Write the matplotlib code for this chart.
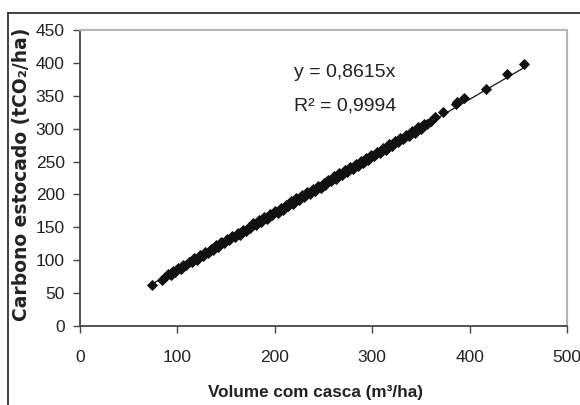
import matplotlib
matplotlib.use('Agg')
import matplotlib.pyplot as plt
from matplotlib.lines import Line2D

#%% Data: stocked carbon vs. volume with bark

volume = [73.6, 84, 87, 90, 93, 95, 98, 101, 104, 106, 109, 112, 115, 117, 120,
          123, 126, 128, 131, 134, 137, 140, 142, 145, 148, 151, 153, 156, 159,
          162, 164, 167, 170, 173, 175, 178, 181, 184, 186, 189, 192, 195, 197,
          200, 203, 206, 208, 211, 214, 217, 219, 222, 225, 228, 230, 233, 236,
          239, 241, 244, 247, 250, 252, 255, 258, 261, 263, 266, 269, 272, 274,
          277, 280, 283, 285, 288, 291, 294, 296, 299, 302, 305, 308, 311, 314,
          317, 320, 323, 326, 329, 332, 335, 338, 341, 344, 347, 350, 353, 356,
          360, 364.5, 373, 386, 387.5, 394.5, 416.5, 438, 456]

carbono = [62.3, 70, 74, 79, 78, 83, 82, 88, 87, 93, 92, 98, 97, 103, 101,
           108, 107, 112, 111, 117, 116, 123, 120, 127, 126, 132, 130, 137, 135,
           142, 139, 146, 144, 151, 149, 156, 154, 161, 158, 165, 163, 170, 168,
           175, 172, 180, 177, 184, 182, 190, 186, 194, 191, 199, 196, 203, 201,
           209, 205, 213, 210, 218, 215, 222, 220, 228, 224, 232, 229, 237, 234,
           241, 239, 247, 243, 251, 248, 256, 253, 260, 258, 265, 263, 271, 268,
           276, 273, 281, 279, 286, 284, 291, 289, 297, 294, 302, 299, 307, 307,
           311, 317, 325, 337, 340, 347, 360, 383, 398]

slope = 0.8615
r2 = 0.9994

x_ticks = [0, 100, 200, 300, 400, 500]
y_ticks = [0, 50, 100, 150, 200, 250, 300, 350, 400, 450]

sans = ['Liberation Sans', 'DejaVu Sans']

#%% Plot

fig = plt.figure(figsize=(5.8, 4.05), dpi=100)
ax = fig.add_axes([80 / 580, 1 - 326 / 405, (567 - 80) / 580, (326 - 30) / 405])

ax.plot(volume, carbono, linestyle='none', marker='D', markersize=5.3,
        color='#111111', markeredgewidth=0.6, zorder=3)

# trendline through the origin
x_fit = [min(volume), max(volume)]
ax.plot(x_fit, [slope * v for v in x_fit], color='#111111', lw=0.9, zorder=2)

ax.text(272, 386, 'y = 0,%sx' % str(slope)[2:], ha='center', va='center',
        fontsize=14, family=sans, color='#222222')
ax.text(272, 335, 'R² = 0,%s' % str(r2)[2:], ha='center', va='center',
        fontsize=14, family=sans, color='#222222')

ax.set_xlim(0, 500)
ax.set_ylim(0, 450)
ax.set_xticks(x_ticks)
ax.set_yticks(y_ticks)
ax.set_xticklabels([str(t) for t in x_ticks], family=sans, fontsize=12.5,
                   color='#222222')
ax.set_yticklabels([str(t) for t in y_ticks], family=sans, fontsize=12.5,
                   color='#222222')
ax.tick_params(axis='both', direction='out', length=5, width=1,
               color='#444444')
ax.tick_params(axis='x', pad=12)
ax.tick_params(axis='y', pad=6)

for side in ['left', 'bottom']:
    ax.spines[side].set_color('#444444')
    ax.spines[side].set_linewidth(1.3)
for side in ['top', 'right']:
    ax.spines[side].set_color('#b4b4b4')
    ax.spines[side].set_linewidth(1.5)

fig.text(316 / 580, 1 - 393 / 405, 'Volume com casca (m³/ha)', ha='center',
         va='center', fontsize=12.3, fontweight='bold', family=sans,
         color='#222222')
fig.text(22 / 580, 1 - 174 / 405, 'Carbono estocado (tCO₂/ha)', ha='center',
         va='center', rotation=90, fontsize=13.5, fontweight='bold',
         family='DejaVu Sans', color='#222222')

# outer chart frame (top and left edges)
fig.add_artist(Line2D([8 / 580, 1], [1 - 13 / 405, 1 - 13 / 405],
                      color='#333333', lw=1.3))
fig.add_artist(Line2D([8 / 580, 8 / 580], [0, 1 - 13 / 405],
                      color='#333333', lw=1.3))

fig.savefig('out.png', dpi=100)
